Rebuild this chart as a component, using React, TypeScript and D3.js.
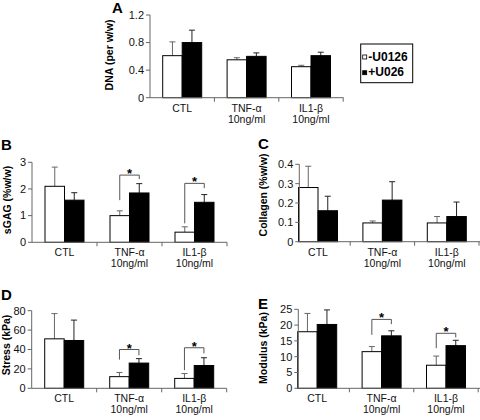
import React from "react";
import * as d3 from "d3";

const categories = ["CTL", "TNF-α", "IL1-β"];
const categorySubLabels = ["", "10ng/ml", "10ng/ml"];
const seriesNames = ["-U0126", "+U026"];

const dnaMinus = [0.61, 0.55, 0.45];
const dnaMinusSd = [0.2, 0.03, 0.02];
const dnaPlus = [0.8, 0.6, 0.61];
const dnaPlusSd = [0.18, 0.05, 0.05];
const dnaTicks = [0, 0.4, 0.8, 1.2];

const sgagMinus = [2.1, 1.0, 0.38];
const sgagMinusSd = [0.72, 0.18, 0.2];
const sgagPlus = [1.58, 1.85, 1.5];
const sgagPlusSd = [0.28, 0.35, 0.29];
const sgagTicks = [0, 1, 2, 3];
const sgagSig = [
  { cat: "TNF-α", level: 2.52, leftEnd: 1.58, rightEnd: 2.37 },
  { cat: "IL1-β", level: 2.21, leftEnd: 0.71, rightEnd: 2.03 },
];

const collagenMinus = [0.28, 0.097, 0.097];
const collagenMinusSd = [0.11, 0.01, 0.033];
const collagenPlus = [0.16, 0.215, 0.13];
const collagenPlusSd = [0.075, 0.095, 0.075];
const collagenTicks = [0, 0.1, 0.2, 0.3, 0.4];

const stressMinus = [51, 12, 10.2];
const stressMinusSd = [26, 4.3, 5];
const stressPlus = [49.3, 26, 23.5];
const stressPlusSd = [21, 4.6, 8];
const stressTicks = [0, 20, 40, 60, 80];
const stressSig = [
  { cat: "TNF-α", level: 40, leftEnd: 29.6, rightEnd: 34 },
  { cat: "IL1-β", level: 41.8, leftEnd: 18.7, rightEnd: 36 },
];

const modulusMinus = [17.9, 11.6, 7.3];
const modulusMinusSd = [5.8, 1.6, 2.9];
const modulusPlus = [20.2, 16.6, 13.5];
const modulusPlusSd = [4.6, 1.6, 1.7];
const modulusTicks = [0, 5, 10, 15, 20, 25];
const modulusSig = [
  { cat: "TNF-α", level: 21.8, leftEnd: 16.9, rightEnd: 20.3 },
  { cat: "IL1-β", level: 17.4, leftEnd: 12.7, rightEnd: 16.1 },
];

const FONT = "'Liberation Sans', Arial, Helvetica, sans-serif";
const BAR_W = 19.5;

type Sig = { cat: string; level: number; leftEnd: number; rightEnd: number };

type PanelProps = {
  letter: string;
  letterX: number;
  letterY: number;
  yLabel: string;
  yLabelX: number;
  yLabelY: number;
  axisX: number;
  bandStart: number;
  bandWidth: number;
  axisEnd: number;
  y0: number;
  yTop: number;
  domainMax: number;
  ticks: number[];
  minus: number[];
  minusSd: number[];
  plus: number[];
  plusSd: number[];
  sig?: Sig[];
};

function Panel(p: PanelProps) {
  const x = d3
    .scaleBand<string>()
    .domain(categories)
    .range([p.bandStart, p.bandStart + p.bandWidth * categories.length])
    .paddingInner(0)
    .paddingOuter(0);
  const bw = x.bandwidth();
  const xs = d3
    .scaleBand<string>()
    .domain(seriesNames)
    .range([bw / 2 - BAR_W, bw / 2 + BAR_W]);
  const y = d3.scaleLinear().domain([0, p.domainMax]).range([p.y0, p.yTop]);
  const series = [
    { name: seriesNames[0], vals: p.minus, sd: p.minusSd, fill: "#fff", err: "#666" },
    { name: seriesNames[1], vals: p.plus, sd: p.plusSd, fill: "#000", err: "#222" },
  ];
  const cx = (cat: string, s: string) => (x(cat) as number) + (xs(s) as number) + xs.bandwidth() / 2;
  const boundaries = categories.map((c) => (x(c) as number) + bw);
  return (
    <g fontFamily={FONT}>
      <text x={p.letterX} y={p.letterY} fontSize={15} fontWeight="bold">
        {p.letter}
      </text>
      <text
        transform={`translate(${p.yLabelX},${p.yLabelY}) rotate(-90)`}
        textAnchor="middle"
        fontSize={10.5}
        fontWeight="bold"
      >
        {p.yLabel}
      </text>
      {series.map((s) =>
        categories.map((c, i) => {
          const left = (x(c) as number) + (xs(s.name) as number);
          const top = y(s.vals[i]);
          const ctr = cx(c, s.name);
          const et = y(s.vals[i] + s.sd[i]);
          return (
            <g key={s.name + c}>
              <line x1={ctr} x2={ctr} y1={top} y2={et} stroke={s.err} strokeWidth={1} />
              <line x1={ctr - 3} x2={ctr + 3} y1={et} y2={et} stroke={s.err} strokeWidth={1} />
              <rect
                x={left}
                y={top}
                width={xs.bandwidth()}
                height={p.y0 - top}
                fill={s.fill}
                stroke="#000"
                strokeWidth={1}
              />
            </g>
          );
        })
      )}
      <line x1={p.axisX} x2={p.axisX} y1={p.yTop} y2={p.y0} stroke="#666" />
      <line x1={p.axisX} x2={p.axisEnd} y1={p.y0} y2={p.y0} stroke="#666" />
      {boundaries
        .filter((b) => b <= p.axisEnd + 1)
        .map((b, i) => (
          <line key={i} x1={b} x2={b} y1={p.y0} y2={p.y0 + 4} stroke="#666" />
        ))}
      {p.ticks.map((t) => (
        <g key={t}>
          <line x1={p.axisX - 4} x2={p.axisX} y1={y(t)} y2={y(t)} stroke="#666" />
          <text
            x={p.axisX - 6}
            y={y(t)}
            dy="0.35em"
            textAnchor="end"
            fontSize={11}
            fill="#111"
          >
            {String(t)}
          </text>
        </g>
      ))}
      {categories.map((c, i) => (
        <g key={c}>
          <text
            x={(x(c) as number) + bw / 2}
            y={p.y0 + 14}
            textAnchor="middle"
            fontSize={10.5}
            fill="#111"
          >
            {c}
          </text>
          {categorySubLabels[i] && (
            <text
              x={(x(c) as number) + bw / 2}
              y={p.y0 + 25}
              textAnchor="middle"
              fontSize={10.5}
              fill="#111"
            >
              {categorySubLabels[i]}
            </text>
          )}
        </g>
      ))}
      {(p.sig || []).map((s) => {
        const x1 = cx(s.cat, seriesNames[0]);
        const x2 = cx(s.cat, seriesNames[1]);
        const yl = y(s.level);
        return (
          <g key={s.cat}>
            <path
              d={`M${x1},${y(s.leftEnd)}V${yl}H${x2}V${y(s.rightEnd)}`}
              fill="none"
              stroke="#555"
              strokeWidth={1}
            />
            <text
              x={(x1 + x2) / 2}
              y={yl + 3}
              textAnchor="middle"
              fontSize={13}
              fontWeight="bold"
            >
              *
            </text>
          </g>
        );
      })}
    </g>
  );
}

function Legend() {
  const rows = [
    { name: seriesNames[0], fill: "#fff", y: 55 },
    { name: seriesNames[1], fill: "#000", y: 70.7 },
  ];
  return (
    <g fontFamily={FONT}>
      <rect x={360.7} y={44} width={52} height={38.7} fill="#fff" stroke="#000" strokeWidth={1} />
      {rows.map((r) => (
        <g key={r.name}>
          <rect x={362.7} y={r.y} width={4} height={4} fill={r.fill} stroke="#000" strokeWidth={0.8} />
          <text x={368.3} y={r.y + 5.5} fontSize={12} fontWeight="bold">
            {r.name}
          </text>
        </g>
      ))}
    </g>
  );
}

export default function App() {
  return (
    <svg
      width={480}
      height={420}
      style={{ position: "absolute", left: 0, top: 0, background: "#fff" }}
    >
      <Panel
        letter="A"
        letterX={112}
        letterY={13}
        yLabel="DNA (per w/w)"
        yLabelX={113}
        yLabelY={55}
        axisX={150}
        bandStart={150}
        bandWidth={64.4}
        axisEnd={343.5}
        y0={97.7}
        yTop={15}
        domainMax={1.2}
        ticks={dnaTicks}
        minus={dnaMinus}
        minusSd={dnaMinusSd}
        plus={dnaPlus}
        plusSd={dnaPlusSd}
      />
      <Panel
        letter="B"
        letterX={1}
        letterY={150}
        yLabel="sGAG (%w/w)"
        yLabelX={11}
        yLabelY={200}
        axisX={32}
        bandStart={32}
        bandWidth={65}
        axisEnd={227}
        y0={242.3}
        yTop={162.3}
        domainMax={3}
        ticks={sgagTicks}
        minus={sgagMinus}
        minusSd={sgagMinusSd}
        plus={sgagPlus}
        plusSd={sgagPlusSd}
        sig={sgagSig}
      />
      <Panel
        letter="C"
        letterX={258}
        letterY={149}
        yLabel="Collagen (%w/w)"
        yLabelX={267}
        yLabelY={195}
        axisX={299.3}
        bandStart={285.8}
        bandWidth={64.4}
        axisEnd={480}
        y0={241.7}
        yTop={164.3}
        domainMax={0.4}
        ticks={collagenTicks}
        minus={collagenMinus}
        minusSd={collagenMinusSd}
        plus={collagenPlus}
        plusSd={collagenPlusSd}
      />
      <Panel
        letter="D"
        letterX={1}
        letterY={300}
        yLabel="Stress (kPa)"
        yLabelX={10}
        yLabelY={345}
        axisX={31.7}
        bandStart={31.7}
        bandWidth={65}
        axisEnd={226.7}
        y0={388.3}
        yTop={310.7}
        domainMax={80}
        ticks={stressTicks}
        minus={stressMinus}
        minusSd={stressMinusSd}
        plus={stressPlus}
        plusSd={stressPlusSd}
        sig={stressSig}
      />
      <Panel
        letter="E"
        letterX={258}
        letterY={309}
        yLabel="Modulus (kPa)"
        yLabelX={267}
        yLabelY={348}
        axisX={298.3}
        bandStart={285}
        bandWidth={64.4}
        axisEnd={480}
        y0={388.3}
        yTop={309.3}
        domainMax={25}
        ticks={modulusTicks}
        minus={modulusMinus}
        minusSd={modulusMinusSd}
        plus={modulusPlus}
        plusSd={modulusPlusSd}
        sig={modulusSig}
      />
      <Legend />
    </svg>
  );
}
